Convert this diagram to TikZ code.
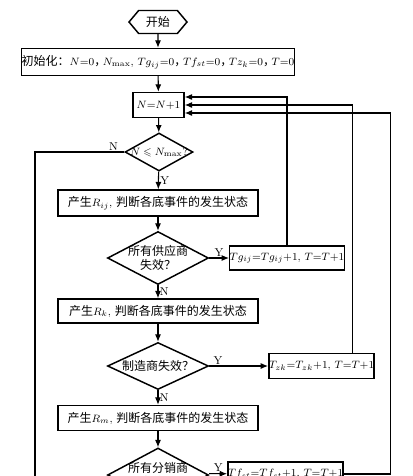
\documentclass[tikz,border=0pt]{standalone}
\usepackage{fontspec}
\usepackage{amssymb}
\newfontfamily\cjk{Noto Sans CJK SC}
\usetikzlibrary{shapes.geometric,shapes.symbols,arrows.meta}
\newcommand{\zh}[1]{{\cjk\fontsize{9}{11}\selectfont #1}}
\newcommand{\zc}{{\cjk\fontsize{9}{11}\selectfont\makebox[6.5pt][l]{，}}}
\newcommand{\nowd}[1]{\makebox[0pt]{#1}}

\tikzset{every picture/.style={line width=0.75pt}}
\tikzset{
  procbox/.style={draw, rectangle, line width=1.1pt, inner sep=0pt, font=\fontsize{8}{11}\selectfont},
  decision/.style={draw, diamond, line width=1.1pt, inner sep=0pt, align=center, font=\fontsize{8}{11}\selectfont},
  flow/.style={line width=0.8pt, -{Latex[length=5.5pt,width=4.5pt]}},
  yn/.style={inner sep=1pt, font=\fontsize{8.5}{10}\selectfont},
}

\begin{document}
\begin{tikzpicture}[x=0.75pt,y=0.75pt,yscale=-1,xscale=1]
\useasboundingbox (0,0) rectangle (412,476);
\clip (0,0) rectangle (412,476);

% Text Node
\node [draw, signal, signal to=east and west, signal pointer angle=100, line width=1.1pt, minimum width=43.5pt, minimum height=17.25pt, inner sep=0pt] (start) at (158,22) {\zh{开始}};
% Text Node
\node [procbox, minimum width=199.5pt, minimum height=20.25pt] (init) at (158,62) {\zh{初始化：}$N$=0\zc$N_{\max}$, $Tg_{ij}$=0\zc$Tf_{st}$=0\zc$Tz_k$=0\zc$T$=0};
% Text Node
\node [procbox, minimum width=38.25pt, minimum height=18.75pt] (inc) at (158.5,105) {$N$=$N$+1};
% Text Node
\node [decision, minimum width=51pt, minimum height=28.5pt] (chk) at (159,152) {\nowd{$N\leqslant N_{\max}$?}};
% Text Node
\node [procbox, minimum width=150pt, minimum height=19.5pt] (rij) at (158,203) {\zh{产生}$R_{ij}$, \zh{判断各底事件的发生状态}};
% Text Node
\node [decision, minimum width=75.75pt, minimum height=39.75pt] (sup) at (158,258) {\nowd{\zh{所有供应商}}\\\nowd{\zh{失效？}}};
% Text Node
\node [procbox, minimum width=81pt, minimum height=18pt] (tg) at (287,258) {$Tg_{ij}$=$Tg_{ij}$+1, $T$=$T$+1};
% Text Node
\node [procbox, minimum width=150pt, minimum height=18pt] (rk) at (158,311) {\zh{产生}$R_k$, \zh{判断各底事件的发生状态}};
% Text Node
\node [decision, minimum width=75.75pt, minimum height=35.25pt] (man) at (158,366) {\nowd{\zh{制造商失效？}}};
% Text Node
\node [procbox, minimum width=78.75pt, minimum height=18.75pt] (tz) at (321.5,366) {$T_{zk}$=$T_{zk}$+1, $T$=$T$+1};
% Text Node
\node [procbox, minimum width=150pt, minimum height=18.75pt] (rm) at (158,418) {\zh{产生}$R_m$, \zh{判断各底事件的发生状态}};
% Text Node
\node [decision, minimum width=75.75pt, minimum height=40.5pt] (dis) at (158,475) {\nowd{\zh{所有分销商}}\\\nowd{\zh{失效？}}};
% Text Node
\node [procbox, minimum width=78.75pt, minimum height=18pt] (tf) at (285.5,474) {$Tf_{st}$=$Tf_{st}$+1, $T$=$T$+1};
\coordinate (fin) at (35,500);

%Straight Lines
\draw [flow] (start) -- (init);
\draw [flow] (init) -- (inc);
\draw [flow] (inc) -- (chk);
\draw [flow] (chk) -- node [yn, right] {Y} (rij);
\draw [flow] (rij) -- (sup);
\draw [flow] (sup) -- node [yn, above] {Y} (tg);
\draw [flow] (sup) -- node [yn, right] {N} (rk);
\draw [flow] (rk) -- (man);
\draw [flow] (man) -- node [yn, above, pos=0.15] {Y} (tz);
\draw [flow] (man) -- node [yn, right] {N} (rm);
\draw [flow] (rm) -- (dis);
\draw [flow] ([yshift=-1pt]dis.east) -- node [yn, above] {Y} (tf);
%Loop Lines
\draw [flow] (tg.north) |- ([yshift=-6pt]inc.east);
\draw [flow] ([xshift=23.25pt]tz.north) |- (inc.east);
\draw [flow] (tf.east) -- ++(47,0) |- ([yshift=6pt]inc.east);
\draw [line width=0.8pt] (chk.west) -| node [yn, above, pos=0.06] {N} (fin);

\end{tikzpicture}
\end{document}
